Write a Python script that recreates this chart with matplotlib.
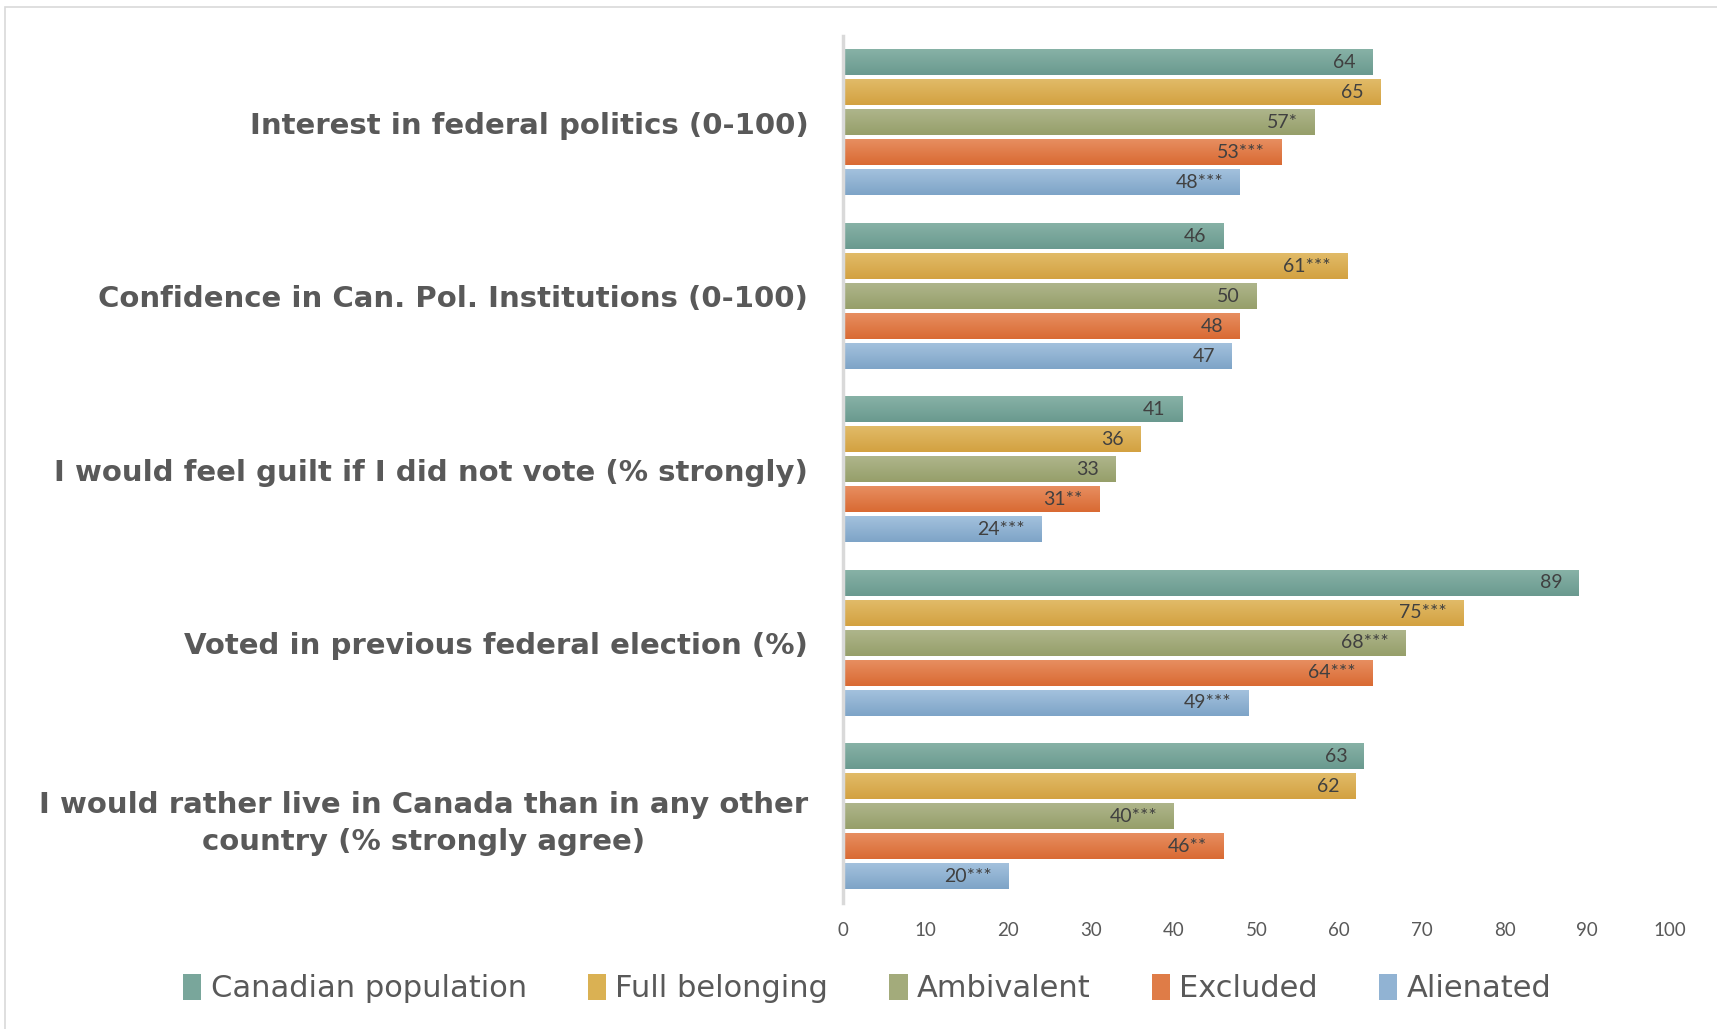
import matplotlib.pyplot as plt
from matplotlib.patches import Rectangle
from matplotlib.colors import LinearSegmentedColormap
import numpy as np

plt.rcParams['font.family'] = ['DejaVu Sans']

categories = ["Interest in federal politics (0-100)",
              "Confidence in Can. Pol. Institutions (0-100)",
              "I would feel guilt if I did not vote (% strongly)",
              "Voted in previous federal election (%)",
              "I would rather live in Canada than in any other\ncountry (% strongly agree)"]
groups = ["Canadian population", "Full belonging", "Ambivalent", "Excluded", "Alienated"]

canadian = [64, 46, 41, 89, 63]
full_belonging = [65, 61, 36, 75, 62]
ambivalent = [57, 50, 33, 68, 40]
excluded = [53, 48, 31, 64, 46]
alienated = [48, 47, 24, 49, 20]

canadian_lbl = ["64", "46", "41", "89", "63"]
full_belonging_lbl = ["65", "61***", "36", "75***", "62"]
ambivalent_lbl = ["57*", "50", "33", "68***", "40***"]
excluded_lbl = ["53***", "48", "31**", "64***", "46**"]
alienated_lbl = ["48***", "47", "24***", "49***", "20***"]

series = [canadian, full_belonging, ambivalent, excluded, alienated]
series_lbl = [canadian_lbl, full_belonging_lbl, ambivalent_lbl, excluded_lbl, alienated_lbl]
colors = ["#79a69b", "#dab153", "#a3ab7b", "#df7c47", "#91b3d3"]
# top / bottom shades of each bar gradient
grad_top = ["#87b2a6", "#e1bb68", "#aeb58b", "#e78e60", "#a3c1dd"]
grad_bot = ["#6a998f", "#d3a141", "#969f6a", "#d96a33", "#7ea4c7"]

fig = plt.figure(figsize=(17.17, 10.29), dpi=100)
ax = fig.add_axes([0.491, 0.1224, 0.4816, 0.8426])

slot = 0.173
bar_h = 0.146
y = np.arange(len(categories))
shade = np.linspace(0, 1, 50).reshape(-1, 1)
for i in range(len(series)):
	pos = y - 2 * slot + i * slot
	bars = ax.barh(pos, series[i], height=bar_h, color=colors[i], label=groups[i])
	cmap = LinearSegmentedColormap.from_list("g%d" % i, [grad_top[i], grad_bot[i]])
	for b, txt in zip(bars, series_lbl[i]):
		y0 = b.get_y()
		ax.imshow(shade, cmap=cmap, aspect="auto", origin="upper", zorder=2,
			extent=(0, b.get_width(), y0 + b.get_height(), y0))
		ax.annotate(txt, (b.get_width(), y0 + b.get_height() / 2),
			xytext=(-12, 0), textcoords="offset points", ha="right", va="center",
			fontsize=14, color="#404040", family="Lato", zorder=3)

ax.set_ylim(len(categories) - 0.5, -0.5)
ax.set_xlim(0, 100)
ax.set_xticks(range(0, 101, 10))
ax.set_yticks(y)
ax.set_yticklabels(categories, fontsize=21, fontweight="bold", color="#595959",
	multialignment="center", linespacing=1.4)
ax.tick_params(axis="y", length=0, pad=25)
ax.tick_params(axis="x", length=0, pad=14, labelsize=13.5, labelcolor="#595959")
for lbl in ax.get_xticklabels():
	lbl.set_family("Lato")
for s in ["top", "right", "bottom"]:
	ax.spines[s].set_visible(False)
ax.spines["left"].set_color("#d9d9d9")
ax.spines["left"].set_linewidth(2.5)
ax.spines["left"].set_zorder(4)

fig.legend(loc="center", bbox_to_anchor=(0.505, 0.039), ncol=5, frameon=False,
	fontsize=22, labelcolor="#595959", handlelength=0.6, handleheight=0.9,
	handletextpad=0.3, columnspacing=2.0)

fig.patches.append(Rectangle((0.003, -0.01), 1.1, 1.003, transform=fig.transFigure,
	fill=False, edgecolor="#d9d9d9", linewidth=1.2))

plt.savefig("out.png", dpi=100)
